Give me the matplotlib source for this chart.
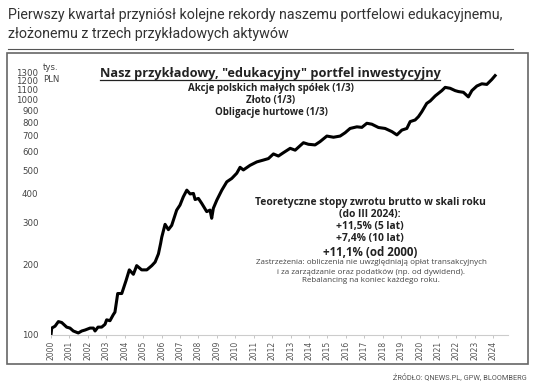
import matplotlib
matplotlib.use("Agg")
import matplotlib.pyplot as plt
from matplotlib.patches import Rectangle
from matplotlib.lines import Line2D

# portfolio value (tys. PLN)
years = [2000.0, 2000.04, 2000.22, 2000.40, 2000.58, 2000.85, 2001.03, 2001.21,
         2001.48, 2001.67, 2001.85, 2002.12, 2002.30, 2002.39, 2002.55, 2002.75,
         2002.93, 2003.02, 2003.20, 2003.38, 2003.47, 2003.62, 2003.84, 2004.07,
         2004.25, 2004.47, 2004.65, 2004.92, 2005.20, 2005.47, 2005.65, 2005.83,
         2005.95, 2006.01, 2006.19, 2006.37, 2006.55, 2006.82, 2007.00, 2007.18,
         2007.37, 2007.55, 2007.73, 2007.82, 2008.00, 2008.18, 2008.45, 2008.63,
         2008.72, 2008.81, 2009.00, 2009.27, 2009.54, 2009.81, 2010.08, 2010.26,
         2010.44, 2010.80, 2011.17, 2011.53, 2011.80, 2012.07, 2012.34, 2012.61,
         2012.98, 2013.25, 2013.70, 2013.97, 2014.33, 2014.60, 2014.97, 2015.33,
         2015.69, 2015.96, 2016.23, 2016.60, 2016.87, 2017.14, 2017.41, 2017.77,
         2018.13, 2018.50, 2018.77, 2019.04, 2019.31, 2019.49, 2019.76, 2019.94,
         2020.12, 2020.39, 2020.58, 2020.85, 2021.21, 2021.39, 2021.66, 2021.93,
         2022.11, 2022.38, 2022.65, 2022.84, 2023.11, 2023.38, 2023.65, 2023.92,
         2024.10]
values = [100, 107, 109, 114, 113, 108, 107, 104,
          102, 104, 105, 107, 107, 104, 108, 108,
          111, 116, 115, 122, 125, 150, 150, 170,
          189, 181, 197, 189, 189, 197, 204, 221,
          245, 260, 295, 280, 292, 339, 356, 386,
          412, 397, 399, 376, 380, 362, 334, 339,
          313, 345, 374, 412, 447, 462, 486, 515,
          502, 525, 543, 553, 561, 587, 575, 594,
          620, 609, 655, 645, 641, 662, 699, 691,
          699, 722, 753, 765, 761, 792, 785, 760,
          753, 730, 707, 741, 753, 805, 818, 845,
          886, 962, 985, 1035, 1090, 1125, 1115, 1090,
          1080, 1072, 1025, 1090, 1140, 1165, 1158, 1215,
          1262]

y_ticks = [100, 200, 300, 400, 500, 600, 700, 800, 900, 1000, 1100, 1200, 1300]
x_ticks = list(range(2000, 2025))

W, H = 536, 383


def px(x, y):
    return x / W, 1 - y / H


fig = plt.figure(figsize=(W / 100, H / 100), dpi=100)
fig.patch.set_facecolor("white")

ax = fig.add_axes([51 / W, 1 - 335 / H, 457 / W, 270 / H])
ax.plot(years, values, color="black", lw=2.2, solid_joinstyle="round")
ax.set_yscale("log")
ax.set_ylim(100, 1400)
ax.set_xlim(2000, 2024.8)

ax.yaxis.set_major_locator(matplotlib.ticker.FixedLocator(y_ticks))
ax.yaxis.set_minor_locator(matplotlib.ticker.NullLocator())
ax.set_yticklabels([str(v) for v in y_ticks])
ax.tick_params(axis="y", length=0, pad=9, labelsize=6.2, labelcolor="#444")

ax.set_xticks(x_ticks)
ax.set_xticklabels([str(v) for v in x_ticks], rotation=90)
ax.tick_params(axis="x", length=2, width=0.6, color="#bbb", pad=2,
               labelsize=5.5, labelcolor="#555")

for side in ["top", "right", "left"]:
    ax.spines[side].set_visible(False)
ax.spines["bottom"].set_color("#ccc")
ax.spines["bottom"].set_linewidth(0.8)

# title above the box
fig.text(*px(8, 15), "Pierwszy kwartał przyniósł kolejne rekordy naszemu portfelowi edukacyjnemu,",
         fontsize=10.3, family="Roboto", color="#333", va="center", ha="left")
fig.text(*px(8, 34), "złożonemu z trzech przykładowych aktywów",
         fontsize=10.3, family="Roboto", color="#333", va="center", ha="left")
fig.add_artist(Line2D([8 / W, 513 / W], [1 - 49 / H, 1 - 49 / H], color="#555", lw=0.8))

# chart frame
fig.add_artist(Rectangle(px(7, 364), 521 / W, 311 / H, fill=False,
                         edgecolor="#666", lw=1.2))

fig.text(*px(43, 68), "tys.", fontsize=6.2, color="#444", va="center", ha="left")
fig.text(*px(43, 79), "PLN", fontsize=6.2, color="#444", va="center", ha="left")

bold = dict(family="Open Sans", weight="bold", color="#222", ha="center", va="center")

head = fig.text(*px(270, 74), 'Nasz przykładowy, "edukacyjny" portfel inwestycyjny',
                fontsize=9.2, **bold)
fig.text(*px(271, 89), "Akcje polskich małych spółek (1/3)", fontsize=7.0, **bold)
fig.text(*px(271, 101), "Złoto (1/3)", fontsize=7.0, **bold)
fig.text(*px(271, 113), "Obligacje hurtowe (1/3)", fontsize=7.0, **bold)

block = [("Teoretyczne stopy zwrotu brutto w skali roku", 203, 7.4),
         ("(do III 2024):", 215, 7.4),
         ("+11,5% (5 lat)", 227, 7.4),
         ("+7,4% (10 lat)", 239, 7.4),
         ("+11,1% (od 2000)", 252, 8.3)]
for txt, yy, fs in block:
    fig.text(*px(370, yy), txt, fontsize=fs, **bold)

notes = ["Zastrzeżenia: obliczenia nie uwzględniają opłat transakcyjnych",
         "i za zarządzanie oraz podatków (np. od dywidend).",
         "Rebalancing na koniec każdego roku."]
for i, txt in enumerate(notes):
    fig.text(*px(371, 263 + 9 * i), txt, fontsize=5.8, family="Open Sans",
             color="#444", ha="center", va="center")

fig.text(*px(527, 377), "ŹRÓDŁO: QNEWS.PL, GPW, BLOOMBERG", fontsize=5.3,
         family="Roboto", color="#555", ha="right", va="center")

# underline the headline
fig.canvas.draw()
bb = head.get_window_extent(fig.canvas.get_renderer())
fig.add_artist(Line2D([bb.x0 / W, bb.x1 / W], [(bb.y0 + 0.5) / H, (bb.y0 + 0.5) / H],
                      color="#222", lw=0.9))

fig.savefig("out.png", dpi=100)
